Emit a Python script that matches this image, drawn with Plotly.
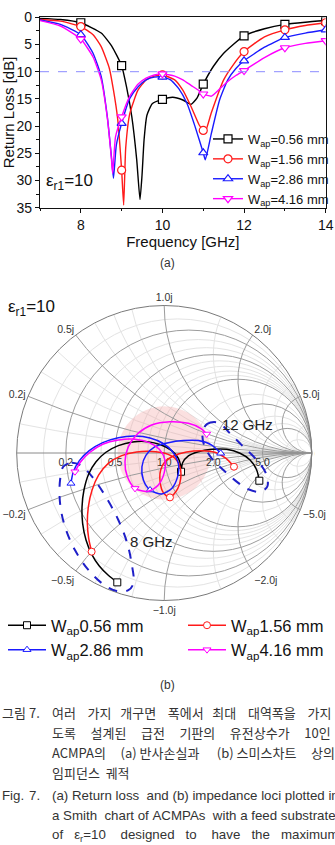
import numpy as np
import plotly.graph_objects as go

W, H = 335, 845

# ---------------- (a) Return loss data ----------------
freq_056 = [7.0, 7.5, 8.0, 8.5, 8.75, 9.0, 9.12, 9.25, 9.37, 9.45, 9.5, 9.55, 9.62, 9.75, 10.0,
            10.25, 10.5, 10.7, 10.85, 11.0, 11.25, 11.5, 12.0, 12.5, 13.0, 13.5, 14.0]
rl_056 = [0.2, 0.4, 1.0, 2.9, 5.2, 8.9, 12.8, 18.3, 26.2, 33.5, 29.0, 22.5, 18.0, 15.9, 15.1,
          14.7, 15.2, 16.0, 14.8, 12.3, 9.0, 6.6, 3.4, 2.1, 1.3, 0.9, 0.6]

freq_156 = [7.0, 7.5, 8.0, 8.3, 8.5, 8.7, 8.8, 8.9, 9.0, 9.05, 9.1, 9.2, 9.4, 9.6, 9.8, 10.0,
            10.3, 10.5, 10.7, 10.9, 11.0, 11.05, 11.2, 11.5, 11.7, 12.0, 12.5, 13.0, 13.5, 14.0]
rl_156 = [0.4, 0.7, 1.7, 3.2, 5.4, 9.4, 13.4, 18.5, 28.1, 34.5, 24.0, 17.7, 13.4, 11.5, 10.8, 10.6,
          11.5, 13.4, 16.4, 19.8, 20.8, 21.0, 17.5, 11.5, 9.1, 6.3, 3.6, 2.3, 1.5, 1.0]

freq_286 = [7.0, 7.5, 8.0, 8.3, 8.5, 8.65, 8.75, 8.8, 8.87, 9.0, 9.2, 9.4, 9.6, 9.8, 10.0, 10.2,
            10.4, 10.6, 10.8, 11.0, 11.05, 11.2, 11.4, 11.6, 11.8, 12.0, 12.5, 13.0, 13.5, 14.0]
rl_286 = [0.5, 1.3, 3.2, 6.6, 10.9, 18.3, 25.6, 29.6, 23.5, 19.5, 14.9, 12.8, 11.5, 11.0, 11.0, 11.5,
          13.1, 15.8, 20.1, 24.9, 26.2, 21.3, 15.2, 11.5, 9.4, 8.0, 5.5, 3.7, 2.9, 2.3]

freq_416 = [7.0, 7.5, 8.0, 8.3, 8.5, 8.65, 8.75, 8.78, 8.85, 9.0, 9.2, 9.4, 9.6, 9.8, 10.0, 10.3,
            10.5, 10.7, 10.9, 11.0, 11.2, 11.4, 11.6, 11.8, 12.0, 12.5, 13.0, 13.5, 14.0]
rl_416 = [0.6, 1.6, 4.0, 7.3, 11.5, 18.5, 26.0, 28.7, 22.0, 18.3, 14.5, 12.3, 11.2, 10.6, 10.4, 10.8,
          11.5, 12.5, 13.5, 14.1, 14.5, 13.2, 11.8, 10.7, 9.8, 7.4, 5.6, 4.8, 4.3]

RL_LIMIT_DB = 10
x_ticks = [8, 10, 12, 14]
y_ticks = [0, 5, 10, 15, 20, 25, 30, 35]

# ---------------- (b) Smith chart loci (reflection coefficient) -------------
gam_056_re = [-0.318, -0.379, -0.440, -0.492, -0.530, -0.553, -0.557, -0.544, -0.512, -0.462, -0.395,
              -0.311, -0.214, -0.114, -0.024, 0.051, 0.096, 0.112, 0.114, 0.125, 0.164, 0.231, 0.322,
              0.424, 0.514, 0.582, 0.627, 0.645]
gam_056_im = [-0.877, -0.829, -0.766, -0.685, -0.590, -0.477, -0.364, -0.251, -0.142, -0.059, 0.005,
              0.050, 0.075, 0.077, 0.056, 0.016, -0.036, -0.088, -0.127, -0.066, -0.020, 0.009, 0.025,
              0.025, -0.002, -0.047, -0.115, -0.188]
mk_056 = [0, 18, 27]

gam_156_re = [-0.492, -0.512, -0.521, -0.514, -0.489, -0.444, -0.379, -0.288, -0.187, -0.085, 0.005,
              0.073, 0.107, 0.112, 0.091, 0.039, -0.006, -0.028, -0.024, 0.005, 0.062, 0.152, 0.254,
              0.344, 0.419, 0.473]
gam_156_im = [-0.669, -0.579, -0.477, -0.364, -0.251, -0.149, -0.070, -0.018, 0.007, 0.011, -0.002,
              -0.036, -0.093, -0.172, -0.244, -0.301, -0.269, -0.194, -0.115, -0.059, -0.020, 0.007,
              0.016, 0.005, -0.036, -0.093]
mk_156 = [0, 15, 25]

gam_286_re = [-0.632, -0.616, -0.575, -0.508, -0.417, -0.311, -0.198, -0.096, -0.010, 0.057, 0.096,
              0.091, 0.051, -0.017, -0.096, -0.141, -0.151, -0.123, -0.062, 0.028, 0.130, 0.231,
              0.322, 0.383]
gam_286_im = [-0.206, -0.127, -0.052, 0.016, 0.070, 0.104, 0.115, 0.102, 0.066, 0.009, -0.070,
              -0.160, -0.240, -0.278, -0.251, -0.183, -0.093, -0.014, 0.043, 0.070, 0.084, 0.084,
              0.054, -0.002]
mk_286 = [0, 14, 23]

gam_416_re = [-0.605, -0.566, -0.503, -0.417, -0.311, -0.198, -0.101, -0.033, 0.005, -0.001, -0.040,
              -0.108, -0.198, -0.250, -0.266, -0.243, -0.182, -0.085, 0.039, 0.164, 0.247, 0.288]
gam_416_im = [-0.127, -0.059, 0.005, 0.059, 0.088, 0.093, 0.070, 0.025, -0.047, -0.138, -0.217,
              -0.260, -0.240, -0.160, -0.059, 0.043, 0.129, 0.190, 0.212, 0.201, 0.167, 0.129]
mk_416 = [0, 12, 21]

# dashed groupings around the 12 GHz and 8 GHz end points
loop12_re = [0.261, 0.292, 0.367, 0.446, 0.536, 0.627, 0.690, 0.699, 0.649, 0.570, 0.491, 0.401,
             0.322, 0.270, 0.261]
loop12_im = [0.145, 0.197, 0.206, 0.133, 0.043, -0.047, -0.138, -0.228, -0.262, -0.246, -0.194,
             -0.115, -0.036, 0.054, 0.145]
loop8_re = [-0.684, -0.627, -0.560, -0.480, -0.390, -0.311, -0.254, -0.221, -0.209, -0.243, -0.322,
            -0.413, -0.514, -0.605, -0.673, -0.706, -0.706, -0.684]
loop8_im = [-0.093, -0.066, -0.088, -0.172, -0.307, -0.454, -0.601, -0.748, -0.884, -0.930, -0.936,
            -0.890, -0.793, -0.658, -0.499, -0.341, -0.183, -0.093]

smith_major_r = [0.2, 0.5, 1.0, 2.0, 5.0]
smith_major_x = [-5.0, -2.0, -1.0, -0.5, -0.2, 0.2, 0.5, 1.0, 2.0, 5.0]
smith_minor_r = [0.1, 0.3, 0.4, 0.6, 0.7, 0.8, 0.9, 1.5, 3.0, 4.0, 10.0]
smith_minor_x = [-10.0, -4.0, -3.0, -1.5, -0.8, -0.7, -0.6, -0.4, -0.3, -0.1,
                 0.1, 0.3, 0.4, 0.6, 0.7, 0.8, 1.5, 3.0, 4.0, 10.0]

names_a = ["W<sub>ap</sub>=0.56 mm", "W<sub>ap</sub>=1.56 mm", "W<sub>ap</sub>=2.86 mm", "W<sub>ap</sub>=4.16 mm"]
names_b = ["W<sub>ap</sub>0.56 mm", "W<sub>ap</sub>1.56 mm", "W<sub>ap</sub>2.86 mm", "W<sub>ap</sub>4.16 mm"]
colors = ["#000000", "#ff1a1a", "#1a1aff", "#ff00ff"]
symbols = ["square", "circle", "triangle-up", "triangle-down"]

S = "\u00a0"
caption_lines = [
    ("그림", 0, 712, "kr"), ("7.", 27, 712, "kr"),
    (("여러", 4), ("가지", 3), ("개구면", 4), ("폭에서", 3), ("최대", 4), ("대역폭을", 4), ("가지", 0), 50, 712, "kr"),
    (("도록", 5), ("설계된", 5), ("급전", 5), ("기판의", 5), ("유전상수가", 5), ("10인", 0), 50, 732, "kr"),
    (("ACMPA의", 5), ("(a)", 1), ("반사손실과", 6), ("(b)", 1), ("스미스차트", 5), ("상의", 0), 50, 752, "kr"),
    (("임피던스", 2), ("궤적", 0), 50, 772, "kr"),
    ("Fig.", 0, 795, "en"), ("7.", 27, 795, "en"),
    (("(a)", 1), ("Return", 1), ("loss", 2), ("and", 1), ("(b)", 1), ("impedance", 1), ("loci", 1),
     ("plotted", 1), ("in", 0), 50, 795, "en"),
    (("a", 1), ("Smith", 2), ("chart", 1), ("of", 1), ("ACMPAs", 2), ("with", 1), ("a", 1), ("feed", 1),
     ("substrate", 0), 50, 815, "en"),
    (("of", 3), ("ε<sub>r</sub>=10", 4), ("designed", 3), ("to", 4), ("have", 3), ("the", 3), ("maximum", 0),
     50, 835, "en"),
    (("bandwidth", 1), ("for", 1), ("various", 1), ("aperture", 1), ("widths.", 0), 50, 856, "en"),
]

FONT = "Liberation Sans, Arial, sans-serif"
KFONT = "Noto Sans CJK KR, sans-serif"


def px(x):
    return x / W


def py(y):
    return 1 - y / H


def to_z(re, im):
    g = np.asarray(re) + 1j * np.asarray(im)
    z = (1 + g) / (1 - g)
    return z.real, z.imag


fig = go.Figure()

# ---------- (a) traces ----------
series_a = [(freq_056, rl_056), (freq_156, rl_156), (freq_286, rl_286), (freq_416, rl_416)]
for (f, rl), c, s in zip(series_a, colors, symbols):
    fig.add_trace(go.Scatter(x=f, y=rl, mode="lines", line=dict(color=c, width=1.4, shape="spline", smoothing=0.5),
                             showlegend=False, hoverinfo="skip"))
    fm = [fv for fv in f if fv >= 8 and float(fv).is_integer()]
    rm = [r for fv, r in zip(f, rl) if fv >= 8 and float(fv).is_integer()]
    fig.add_trace(go.Scatter(x=fm, y=rm, mode="markers",
                             marker=dict(symbol=s, size=8, color="white", line=dict(color=c, width=1.2)),
                             showlegend=False, hoverinfo="skip"))

fig.add_hline(y=RL_LIMIT_DB, line=dict(color="#8c8cff", width=1, dash="dash"))

for i, (c, s, n) in enumerate(zip(colors, symbols, names_a)):
    fig.add_trace(go.Scatter(x=[None], y=[None], mode="lines+markers", name=n, legend="legend",
                             legendgroup="a%d" % i,
                             line=dict(color=c, width=1.4),
                             marker=dict(symbol=s, size=8, color="white", line=dict(color=c, width=1.2))))

# ---------- (b) Smith chart ----------
rho = 10 ** (-RL_LIMIT_DB / 20)
th = np.linspace(0, 2 * np.pi, 145)
cre, cim = to_z(rho * np.cos(th), rho * np.sin(th))
fig.add_trace(go.Scattersmith(real=cre, imag=cim, mode="lines", fill="toself",
                              fillcolor="rgba(242,160,160,0.33)", line=dict(width=0, color="rgba(0,0,0,0)"),
                              subplot="smith", showlegend=False, hoverinfo="skip"))

for lre, lim in [(loop12_re, loop12_im), (loop8_re, loop8_im)]:
    zr, zi = to_z(lre, lim)
    fig.add_trace(go.Scattersmith(real=zr, imag=zi, mode="lines", subplot="smith2",
                                  line=dict(color="#1f1fc8", width=2, dash="dash", shape="spline", smoothing=1.0),
                                  showlegend=False, hoverinfo="skip"))

series_b = [(gam_056_re, gam_056_im, mk_056), (gam_156_re, gam_156_im, mk_156),
            (gam_286_re, gam_286_im, mk_286), (gam_416_re, gam_416_im, mk_416)]
for (gr, gi, mk), c, s in zip(series_b, colors, symbols):
    zr, zi = to_z(gr, gi)
    fig.add_trace(go.Scattersmith(real=zr, imag=zi, mode="lines", subplot="smith2",
                                  line=dict(color=c, width=1.5, shape="spline", smoothing=0.8),
                                  showlegend=False, hoverinfo="skip"))
    fig.add_trace(go.Scattersmith(real=zr[mk], imag=zi[mk], mode="markers", subplot="smith2",
                                  marker=dict(symbol=s, size=7, color="white", line=dict(color=c, width=1)),
                                  showlegend=False, hoverinfo="skip"))

for i, (c, s, n) in enumerate(zip(colors, symbols, names_b)):
    fig.add_trace(go.Scatter(x=[None], y=[None], mode="lines+markers", name=n,
                             legend="legend2" if i in (0, 2) else "legend3",
                             legendgroup="b%d" % i,
                             line=dict(color=c, width=1.4),
                             marker=dict(symbol=s, size=7, color="white", line=dict(color=c, width=1))))

smith_dom = dict(x=[px(16.7), px(311.7)], y=[py(600.5), py(305.5)])

ann = []
ann.append(dict(text="ε<sub>r1</sub>=10", x=px(44), y=py(182), xref="paper", yref="paper",
                xanchor="left", yanchor="middle", showarrow=False, font=dict(family=FONT, size=17, color="#111")))
ann.append(dict(text="(a)", x=px(167), y=py(263), xref="paper", yref="paper", xanchor="center",
                yanchor="middle", showarrow=False, font=dict(family=FONT, size=12, color="#333")))
ann.append(dict(text="ε<sub>r1</sub>=10", x=px(6), y=py(308), xref="paper", yref="paper",
                xanchor="left", yanchor="middle", showarrow=False, font=dict(family=FONT, size=17, color="#111")))
ann.append(dict(text="12 GHz", x=px(220), y=py(424), xref="paper", yref="paper",
                xanchor="left", yanchor="middle", showarrow=False, font=dict(family=FONT, size=15, color="#222")))
ann.append(dict(text="8 GHz", x=px(128), y=py(541), xref="paper", yref="paper",
                xanchor="left", yanchor="middle", showarrow=False, font=dict(family=FONT, size=15, color="#222")))
ann.append(dict(text="(b)", x=px(167), y=py(685), xref="paper", yref="paper", xanchor="center",
                yanchor="middle", showarrow=False, font=dict(family=FONT, size=12, color="#333")))
# white patch over the library's infinity label (not in the original figure)
ann.append(dict(text=S, x=px(313.5), y=py(453), xref="paper", yref="paper", xanchor="left",
                yanchor="middle", showarrow=False, width=18, height=16, bgcolor="white",
                font=dict(size=10)))
for item in caption_lines:
    *words, x0, y0, lang = item
    if isinstance(words[0], str):
        txt = words[0]
    else:
        txt = "".join(w + S * n for w, n in words)
    ann.append(dict(text=txt, x=px(x0), y=py(y0), xref="paper", yref="paper", xanchor="left",
                    yanchor="middle", showarrow=False,
                    font=dict(family=KFONT if lang == "kr" else FONT, size=13 if lang == "kr" else 13.3,
                              color="#333")))

fig.update_layout(
    width=W, height=H, margin=dict(l=0, r=0, t=0, b=0),
    paper_bgcolor="white", plot_bgcolor="white",
    font=dict(family=FONT, color="#111"),
    xaxis=dict(domain=[px(40), px(325.7)], range=[7, 14], tickvals=x_ticks, ticks="outside", ticklen=4,
               tickwidth=1, tickcolor="#111", showline=True, linecolor="#111", linewidth=1.2, mirror=True,
               showgrid=False, zeroline=False, tickfont=dict(size=14), automargin=False,
               minor=dict(dtick=1, ticks="outside", ticklen=2.5, tickcolor="#111"),
               title=dict(text="Frequency [GHz]", font=dict(size=15), standoff=0)),
    yaxis=dict(domain=[py(207.7), py(17.3)], range=[35, 0], tickvals=y_ticks, ticks="outside", ticklen=4,
               tickwidth=1, tickcolor="#111", showline=True, linecolor="#111", linewidth=1.2, mirror=True,
               showgrid=False, zeroline=False, tickfont=dict(size=14), automargin=False,
               minor=dict(dtick=2.5, ticks="outside", ticklen=2.5, tickcolor="#111"),
               title=dict(text="Return Loss [dB]", font=dict(size=15), standoff=3)),
    smith=dict(domain=smith_dom, bgcolor="white",
               realaxis=dict(tickvals=smith_minor_r, showticklabels=False, gridcolor="#e3e3e3", gridwidth=0.8,
                             showline=False, ticks="", layer="below traces"),
               imaginaryaxis=dict(tickvals=smith_minor_x, showticklabels=False, gridcolor="#e3e3e3",
                                  gridwidth=0.8, showline=False, ticks="", layer="below traces")),
    smith2=dict(domain=smith_dom, bgcolor="rgba(0,0,0,0)",
                realaxis=dict(tickvals=smith_major_r, tickformat=".1f", tickangle=0, side="bottom",
                              gridcolor="#9c9c9c", gridwidth=0.9, showline=True, linecolor="#8a8a8a",
                              linewidth=1, ticks="", layer="below traces",
                              tickfont=dict(size=10.5, color="#333")),
                imaginaryaxis=dict(tickvals=smith_major_x, tickformat=".1f", ticksuffix="j",
                                   gridcolor="#9c9c9c", gridwidth=0.9, showline=True, linecolor="#7a7a7a",
                                   linewidth=1, ticks="", layer="below traces",
                                   tickfont=dict(size=10.5, color="#333"))),
    legend=dict(x=px(208), y=py(124), xanchor="left", yanchor="top", bgcolor="rgba(0,0,0,0)",
                font=dict(size=13, family=FONT, color="#111"), itemwidth=30, tracegroupgap=0,
                traceorder="normal"),
    legend2=dict(x=px(3), y=py(608), xanchor="left", yanchor="top", bgcolor="rgba(0,0,0,0)",
                 font=dict(size=16.5, family=FONT, color="#111"), itemwidth=38, tracegroupgap=0,
                 traceorder="normal"),
    legend3=dict(x=px(183), y=py(608), xanchor="left", yanchor="top", bgcolor="rgba(0,0,0,0)",
                 font=dict(size=16.5, family=FONT, color="#111"), itemwidth=38, tracegroupgap=0,
                 traceorder="normal"),
    annotations=ann,
)

fig.write_html("out.html")
